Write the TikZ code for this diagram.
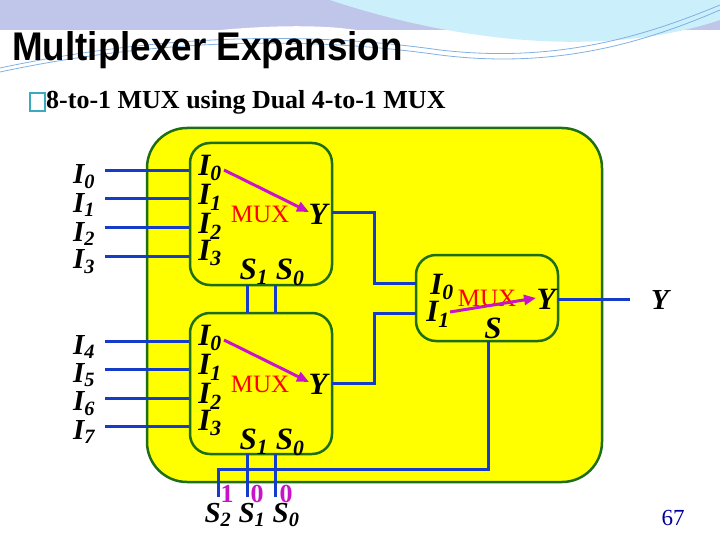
\documentclass[tikz,border=0pt]{standalone}
\usepackage{fontspec}
\setmainfont{Liberation Serif}
\setsansfont{Liberation Sans}
\usetikzlibrary{arrows.meta}
\definecolor{grn}{RGB}{30,110,20}
\definecolor{wire}{RGB}{20,60,200}
\definecolor{mag}{RGB}{200,20,200}
\definecolor{ylw}{RGB}{255,255,0}
\definecolor{bul}{RGB}{60,170,190}
\tikzset{
  outerbox/.style={draw=grn,line width=2.5pt,fill=ylw,rounded corners=40pt},
  muxbox/.style={draw=grn,line width=2.5pt,fill=ylw,rounded corners=20pt},
  w/.style={draw=wire,line width=3pt},
  lab/.style={font=\fontsize{29}{29}\selectfont\bfseries\itshape,inner sep=0pt},
  ilab/.style={font=\fontsize{31}{31}\selectfont\bfseries\itshape,inner sep=0pt},
  muxt/.style={font=\fontsize{25}{25}\selectfont,text=red,inner sep=0pt},
  sel/.style={line width=3pt,-{Triangle[length=12pt,width=10pt]},draw=mag},
  bit/.style={font=\fontsize{26}{26}\selectfont\bfseries,text=mag,inner sep=0pt}
}
\begin{document}
\begin{tikzpicture}[x=1pt,y=-1pt]
\useasboundingbox (0,0) rectangle (720,540);
% background wave
\fill[cyan!35!blue!25] (0,0) rectangle (720,30);
\fill[cyan!20] (330,0) .. controls (450,40) and (600,60) .. (720,20) -- (720,0) -- cycle;
\fill[white] (0,75) .. controls (100,40) and (250,20) .. (340,28) .. controls (450,40) and (560,70) .. (720,40) -- (720,540) -- (0,540) -- cycle;
\draw[cyan!60!blue!50,line width=0.8pt] (0,72) .. controls (150,40) and (300,35) .. (440,55) .. controls (560,70) and (650,40) .. (720,10);
\draw[cyan!60!blue!50,line width=0.8pt] (0,68) .. controls (150,36) and (300,30) .. (440,50) .. controls (560,64) and (650,34) .. (720,5);
\node[anchor=west,font=\sffamily\bfseries\fontsize{40}{40}\selectfont,inner sep=0pt,xscale=0.92] (title) at (12,50) {Multiplexer Expansion};
\draw[bul,line width=1.5pt] (30,93) rectangle (45,111);
\node[anchor=west,font=\fontsize{26}{26}\selectfont\bfseries,inner sep=0pt] (sub) at (46,102) {8-to-1 MUX using Dual 4-to-1 MUX};

\path[outerbox] (147,128) rectangle (602,482);
% inputs
\foreach \y/\n in {171/0,199/1,228/2,256/3,341/4,369/5,398/6,426/7}{
  \coordinate (in\n) at (105,\y);
  \coordinate (pin\n) at (190,\y);
  \draw[w] (in\n) -- (pin\n);
  \node[lab] (l\n) at (84,\y+6) {I\textsubscript{\n}};
}
\draw[muxbox] (190,143) rectangle (332,285);
\draw[muxbox] (190,313) rectangle (332,454);
\draw[muxbox] (416,255) rectangle (558,341);
% internal wires
\coordinate (yA) at (332,213); \coordinate (yB) at (332,383);
\coordinate (i0) at (416,283); \coordinate (i1) at (416,313);
\draw[w] (yA) -- (374,213) -- (374,283) -- (i0);
\draw[w] (yB) -- (374,383) -- (374,313) -- (i1);
\draw[w] (247,285) -- (247,313);
\draw[w] (275,285) -- (275,313);
\coordinate (s2) at (218,497); \coordinate (s1) at (247,497); \coordinate (s0) at (275,497);
\draw[w] (247,454) -- (s1);
\draw[w] (275,454) -- (s0);
\draw[w] (s2) -- (218,469) -- (488,469) -- (488,341);
\coordinate (yo) at (630,299);
\draw[w] (558,299) -- (yo);
% labels in muxes
\foreach \dy in {0,170}{
  \foreach \k/\y in {0/168,1/197,2/226,3/253}{
    \node[ilab] (m\dy i\k) at (210,\y+\dy) {I\textsubscript{\k}};
  }
  \node[muxt] (mux\dy) at (260,214+\dy) {MUX};
  \node[ilab] (Y\dy) at (318,214+\dy) {Y};
  \node[ilab] (S\dy) at (272,272+\dy) {S\textsubscript{1} S\textsubscript{0}};
  \draw[sel] (224,170+\dy) -- (309,212+\dy);
}
\node[ilab] (r0) at (442,287) {I\textsubscript{0}};
\node[ilab] (r1) at (438,314) {I\textsubscript{1}};
\node[muxt] (muxr) at (487,298) {MUX};
\node[ilab] (ry) at (546,299) {Y};
\node[ilab] (rs) at (493,328) {S};
\draw[sel] (450,312) -- (536,298);
\node[lab] (yout) at (660,300) {Y};
\node[bit] (b2) at (227,494) {1};
\node[bit] (b1) at (257,494) {0};
\node[bit] (b0) at (286,494) {0};
\node[lab] (sl) at (252,515) {S\textsubscript{2} S\textsubscript{1} S\textsubscript{0}};
\node[font=\fontsize{23}{23}\selectfont,text=blue!60!black,inner sep=0pt] (pg) at (673,518) {67};
\end{tikzpicture}
\end{document}
